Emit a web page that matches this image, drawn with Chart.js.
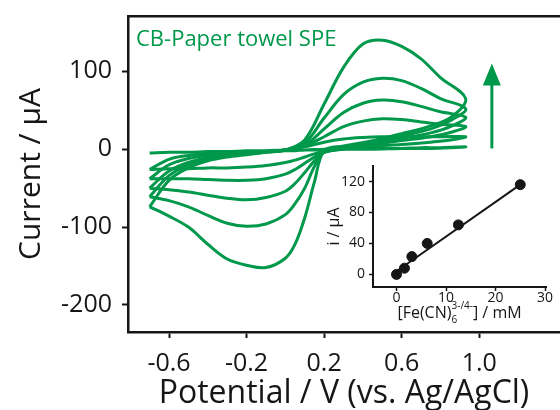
<!DOCTYPE html>
<html>
<head>
<meta charset="utf-8">
<script src="https://cdn.jsdelivr.net/npm/chart.js"></script>
<style>
  html, body { margin: 0; padding: 0; background: #fff; overflow: hidden; }
  #wrap { position: relative; width: 560px; height: 410px; }
  #cv { position: absolute; left: 0; top: 0; }
  #inset { position: absolute; left: 320px; top: 160px; }
</style>
</head>
<body>
<div id="wrap">
  <canvas id="cv" width="560" height="410"></canvas>
  <canvas id="inset" width="240" height="175"></canvas>
</div>
<script>
// potential sweep: forward -0.7 -> 0.93 V, then reverse back to -0.7 V
const potential = [-0.7, -0.6, -0.5, -0.4, -0.3, -0.2, -0.1, 0, 0.1, 0.2, 0.3, 0.4, 0.5, 0.6, 0.7, 0.8, 0.93,
                   0.86, 0.75, 0.6, 0.45, 0.3, 0.2, 0.15, 0.1, 0.05, 0, -0.1, -0.2, -0.3, -0.4, -0.5, -0.6, -0.7];

// current (µA) for each ferri/ferrocyanide concentration
const i_0mM    = [-5, -4, -4, -3, -3, -2, -2, -1, -1, 0, 0, 1, 1, 1, 2, 2, 3,
                  2, 1, 1, 0, 0, -1, -1, -1, -2, -2, -2, -3, -3, -4, -4, -4, -5];
const i_1_5mM  = [-26, -13, -8, -6, -5, -4, -3, -1, 3, 9, 13, 15, 16, 16, 16, 16, 16,
                  12, 9, 6, 4, 0, -3, -6, -10, -14, -17, -21, -23, -24, -24, -25, -25, -26];
const i_3mM    = [-38, -20, -12, -8, -6, -4, -3, -1, 4, 16, 29, 36, 39, 38, 35, 32, 29,
                  22, 16, 11, 6, 1, -4, -10, -18, -26, -32, -38, -40, -40, -39, -38, -38, -38];
const i_6mM    = [-50, -28, -17, -11, -7, -5, -3, -1, 5, 26, 47, 59, 63, 61, 55, 48, 41,
                  30, 21, 14, 8, 2, -4, -15, -30, -44, -54, -62, -65, -63, -59, -55, -52, -50];
const i_12_5mM = [-61, -34, -20, -13, -8, -6, -4, -1, 8, 40, 70, 86, 91, 88, 78, 65, 52,
                  38, 26, 17, 10, 3, -3, -22, -50, -70, -84, -96, -99, -95, -85, -74, -66, -61];
const i_25mM   = [-74, -40, -24, -15, -10, -7, -4, -1, 12, 58, 105, 135, 140, 132, 116, 92, 65,
                  42, 30, 20, 11, 4, -2, -42, -88, -122, -140, -152, -149, -141, -122, -100, -86, -74];

const xTicks = [-0.6, -0.2, 0.2, 0.6, 1.0];
const yTicks = [100, 0, -100, -200];

// inset: peak current vs concentration
const conc = [0, 1.6, 3.1, 6.2, 12.5, 25];
const peakCurrent = [0, 8, 23, 40, 64, 116];
const fitConc = [0, 25];
const fitCurrent = [4, 116];
const insetXTicks = [0, 10, 20, 30];
const insetYTicks = [0, 40, 80, 120];

// arrow (data units)
const arrowV = 1.065;
const arrowFrom = 1;
const arrowTo = 110;

const green = '#00984a';
const ink = '#161616';
const fam = '"Open Sans", "Noto Sans", sans-serif';

const curves = [i_0mM, i_1_5mM, i_3mM, i_6mM, i_12_5mM, i_25mM];

const cvDatasets = curves.map(c => ({
  data: potential.map((v, k) => ({x: v, y: c[k]})),
  showLine: true,
  borderColor: green,
  borderWidth: 3,
  pointRadius: 0,
  tension: 0.35,
  fill: false
}));

// keep the plot box exactly where it is: no extra room for edge labels
const noPad = s => { s.paddingTop = 0; s.paddingBottom = 0; s.paddingLeft = 0; s.paddingRight = 0; };

const decor = {
  id: 'decor',
  afterDatasetsDraw(chart) {
    const {ctx, chartArea, scales} = chart;
    ctx.save();
    ctx.fillStyle = green;
    ctx.font = '22px ' + fam;
    ctx.textBaseline = 'alphabetic';
    ctx.fillText('CB-Paper towel SPE', chartArea.left + 8, 46);

    const ax = scales.x.getPixelForValue(arrowV);
    const y0 = scales.y.getPixelForValue(arrowFrom);
    const y1 = scales.y.getPixelForValue(arrowTo);
    ctx.strokeStyle = green;
    ctx.lineWidth = 3;
    ctx.beginPath();
    ctx.moveTo(ax, y0);
    ctx.lineTo(ax, y1 + 18);
    ctx.stroke();
    ctx.beginPath();
    ctx.moveTo(ax, y1);
    ctx.lineTo(ax - 9, y1 + 22);
    ctx.lineTo(ax + 9, y1 + 22);
    ctx.closePath();
    ctx.fill();
    ctx.restore();
  }
};

new Chart(document.getElementById('cv'), {
  type: 'scatter',
  data: {datasets: cvDatasets},
  options: {
    responsive: false,
    animation: false,
    layout: {padding: {top: 16, right: 0, bottom: 0, left: 0}},
    plugins: {legend: {display: false}, tooltip: {enabled: false}},
    scales: {
      x: {
        type: 'linear', position: 'bottom', min: -0.8115, max: 1.4165,
        afterBuildTicks: s => { s.ticks = xTicks.map(v => ({value: v})); },
        afterFit: s => { s.height = 78; noPad(s); },
        ticks: {callback: v => v.toFixed(1), font: {family: fam, size: 25}, color: ink, padding: 11, maxRotation: 0, autoSkip: false},
        grid: {display: true, drawOnChartArea: false, drawTicks: true, tickLength: 6, tickWidth: 2, tickColor: ink},
        border: {display: true, color: ink, width: 2.5},
        title: {display: true, text: 'Potential / V (vs. Ag/AgCl)', color: ink, font: {family: fam, size: 32, lineHeight: 1.0}, padding: {top: 0, bottom: 0}}
      },
      xTop: {
        type: 'linear', position: 'top', min: -0.8115, max: 1.4165,
        afterFit: s => { s.height = 0; noPad(s); },
        ticks: {display: false},
        grid: {display: false},
        border: {display: true, color: ink, width: 2.5}
      },
      y: {
        type: 'linear', position: 'left', min: -234.7, max: 171,
        afterBuildTicks: s => { s.ticks = yTicks.map(v => ({value: v})); },
        afterFit: s => { s.width = 128; noPad(s); },
        ticks: {font: {family: fam, size: 25}, color: ink, padding: 10},
        grid: {display: true, drawOnChartArea: false, drawTicks: true, tickLength: 6, tickWidth: 2, tickColor: ink},
        border: {display: true, color: ink, width: 2.5},
        title: {display: true, text: 'Current / \u03bcA', color: ink, font: {family: fam, size: 30, lineHeight: 1.2}, padding: {top: 13, bottom: 0}}
      }
    }
  },
  plugins: [decor]
});

// inset x-axis title with sub/superscript
const insetTitle = {
  id: 'insetTitle',
  afterDraw(chart) {
    const {ctx, chartArea} = chart;
    const parts = [
      {t: '[Fe(CN)', size: 16, dy: 0},
      {t: '6', size: 10, dy: 5},
      {t: '3-/4-', size: 10, dy: -9},
      {t: '] / mM', size: 16, dy: 0}
    ];
    ctx.save();
    ctx.fillStyle = ink;
    ctx.textBaseline = 'alphabetic';
    parts.forEach(p => { ctx.font = p.size + 'px ' + fam; p.w = ctx.measureText(p.t).width; });
    // subscript and superscript stack in the same slot
    const w = parts[0].w + Math.max(parts[1].w, parts[2].w) + parts[3].w;
    let x = (chartArea.left + chartArea.right) / 2 - w / 2;
    const base = 158;
    ctx.font = parts[0].size + 'px ' + fam; ctx.fillText(parts[0].t, x, base); x += parts[0].w;
    ctx.font = parts[1].size + 'px ' + fam; ctx.fillText(parts[1].t, x, base + parts[1].dy);
    ctx.font = parts[2].size + 'px ' + fam; ctx.fillText(parts[2].t, x, base + parts[2].dy);
    x += Math.max(parts[1].w, parts[2].w);
    ctx.font = parts[3].size + 'px ' + fam; ctx.fillText(parts[3].t, x, base);
    ctx.restore();
  }
};

new Chart(document.getElementById('inset'), {
  type: 'scatter',
  data: {
    datasets: [
      {
        data: fitConc.map((c, k) => ({x: c, y: fitCurrent[k]})),
        showLine: true, borderColor: ink, borderWidth: 2, pointRadius: 0
      },
      {
        data: conc.map((c, k) => ({x: c, y: peakCurrent[k]})),
        showLine: false, pointRadius: 5, pointBackgroundColor: ink, pointBorderColor: ink
      }
    ]
  },
  options: {
    responsive: false,
    animation: false,
    layout: {padding: {top: 5, right: 14, bottom: 0, left: 0}},
    plugins: {legend: {display: false}, tooltip: {enabled: false}},
    scales: {
      x: {
        type: 'linear', min: -4.75, max: 30.2,
        afterBuildTicks: s => { s.ticks = insetXTicks.map(v => ({value: v})); },
        afterFit: s => { s.height = 48; noPad(s); },
        ticks: {font: {family: fam, size: 14, lineHeight: 1}, color: ink, padding: 0, maxRotation: 0, autoSkip: false},
        grid: {display: true, drawOnChartArea: false, drawTicks: true, tickLength: 4, tickWidth: 1.5, tickColor: ink},
        border: {display: true, color: ink, width: 2}
      },
      y: {
        type: 'linear', min: -16.3, max: 140.1,
        afterBuildTicks: s => { s.ticks = insetYTicks.map(v => ({value: v})); },
        afterFit: s => { s.width = 53; noPad(s); },
        ticks: {font: {family: fam, size: 14}, color: ink, padding: 4},
        grid: {display: true, drawOnChartArea: false, drawTicks: true, tickLength: 4, tickWidth: 1.5, tickColor: ink},
        border: {display: true, color: ink, width: 2},
        title: {display: true, text: 'i / \u03bcA', color: ink, font: {family: fam, size: 16, lineHeight: 1.2}, padding: {top: 5, bottom: 0}}
      }
    }
  },
  plugins: [insetTitle]
});
</script>
</body>
</html>
